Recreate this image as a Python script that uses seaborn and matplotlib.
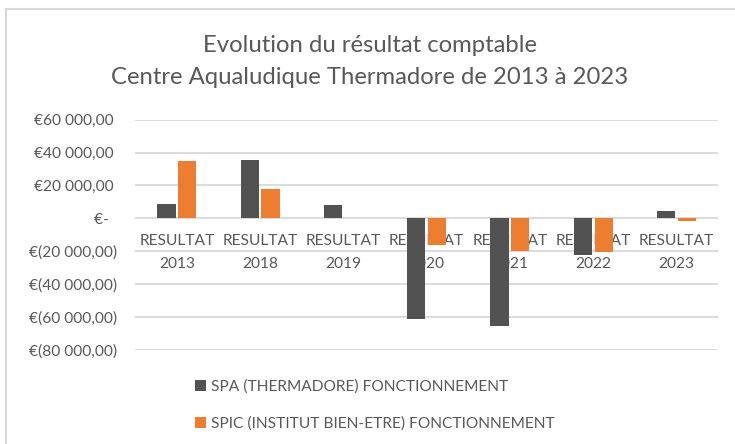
"""
Evolution du résultat comptable - Centre Aqualudique Thermadore.
Diagramme en barres groupées (style Excel) avec seaborn.
"""

import pandas as pd
import matplotlib.pyplot as plt
import seaborn as sns
from matplotlib.ticker import FuncFormatter
from matplotlib.patches import Rectangle

# Données
annees = ["RESULTAT\n2013", "RESULTAT\n2018", "RESULTAT\n2019", "RESULTAT\n2020",
          "RESULTAT\n2021", "RESULTAT\n2022", "RESULTAT\n2023"]
spa = [8800, 35700, 8200, -61200, -65300, -22300, 4700]
spic = [35100, 17900, 0, -16000, -20100, -20700, -1800]
series = ["SPA (THERMADORE) FONCTIONNEMENT", "SPIC (INSTITUT BIEN-ETRE) FONCTIONNEMENT"]
couleurs = ["#525252", "#ED7D31"]

GRIS_TEXTE = "#595959"
GRIS_GRILLE = "#d9d9d9"
TAILLE = 11.2


def format_euro(v, pos):
    # format comptable Excel : €60 000,00 / €- / €(20 000,00)
    if abs(v) < 0.5:
        return "€-  "
    txt = f"{abs(v):,.2f}".replace(",", " ").replace(".", ",")
    return f"€({txt})" if v < 0 else f"€{txt} "


def tracer():
    df = pd.DataFrame({
        "annee": annees * 2,
        "valeur": spa + spic,
        "serie": [series[0]] * len(annees) + [series[1]] * len(annees),
    })

    sns.set_theme(style="white")
    plt.rcParams["font.family"] = ["Lato", "DejaVu Sans"]

    fig = plt.figure(figsize=(7.35, 4.44), dpi=100)
    ax = fig.add_axes([0.184, 0.2124, 0.793, 0.518])

    sns.barplot(data=df, x="annee", y="valeur", hue="serie", palette=couleurs,
                saturation=1, width=0.5, gap=0.13, linewidth=0, ax=ax, legend=True)

    ax.set_ylim(-80000, 60000)
    ax.set_xlim(-0.5, 6.5)
    ax.set_yticks(range(-80000, 60001, 20000))
    ax.yaxis.set_major_formatter(FuncFormatter(format_euro))
    ax.grid(axis="y", color=GRIS_GRILLE, linewidth=1.3)
    ax.set_axisbelow(True)
    for s in ax.spines.values():
        s.set_visible(False)
    ax.spines["bottom"].set_position(("data", 0))

    ax.tick_params(axis="y", length=0, pad=13, labelsize=TAILLE, labelcolor=GRIS_TEXTE)
    ax.tick_params(axis="x", length=0, pad=11, labelsize=TAILLE, labelcolor=GRIS_TEXTE)
    ax.set_xticks(range(len(annees)))
    ax.set_xticklabels(annees, linespacing=1.9)
    ax.set_xlabel("")
    ax.set_ylabel("")

    # Légende en bas, verticale
    handles, labels = ax.get_legend_handles_labels()
    ax.get_legend().remove()
    fig.legend(handles, labels, loc="upper left", bbox_to_anchor=(0.257, 0.16),
               frameon=False, fontsize=TAILLE, labelcolor=GRIS_TEXTE,
               handlelength=0.7, handleheight=0.7, handletextpad=0.3,
               labelspacing=1.5, borderaxespad=0)

    fig.text(0.503, 0.898, "Evolution du résultat comptable", ha="center", va="center",
             fontsize=17.2, color=GRIS_TEXTE)
    fig.text(0.503, 0.826, "Centre Aqualudique Thermadore de 2013 à 2023", ha="center",
             va="center", fontsize=17.2, color=GRIS_TEXTE)

    # Cadre du graphique
    fig.patches.append(Rectangle((6 / 735, -0.05), 1.1, 1 - 9 / 444 + 0.05,
                                 transform=fig.transFigure, fill=False,
                                 edgecolor=GRIS_GRILLE, linewidth=1.5))

    fig.savefig("out.png", dpi=100)


if __name__ == "__main__":
    tracer()
